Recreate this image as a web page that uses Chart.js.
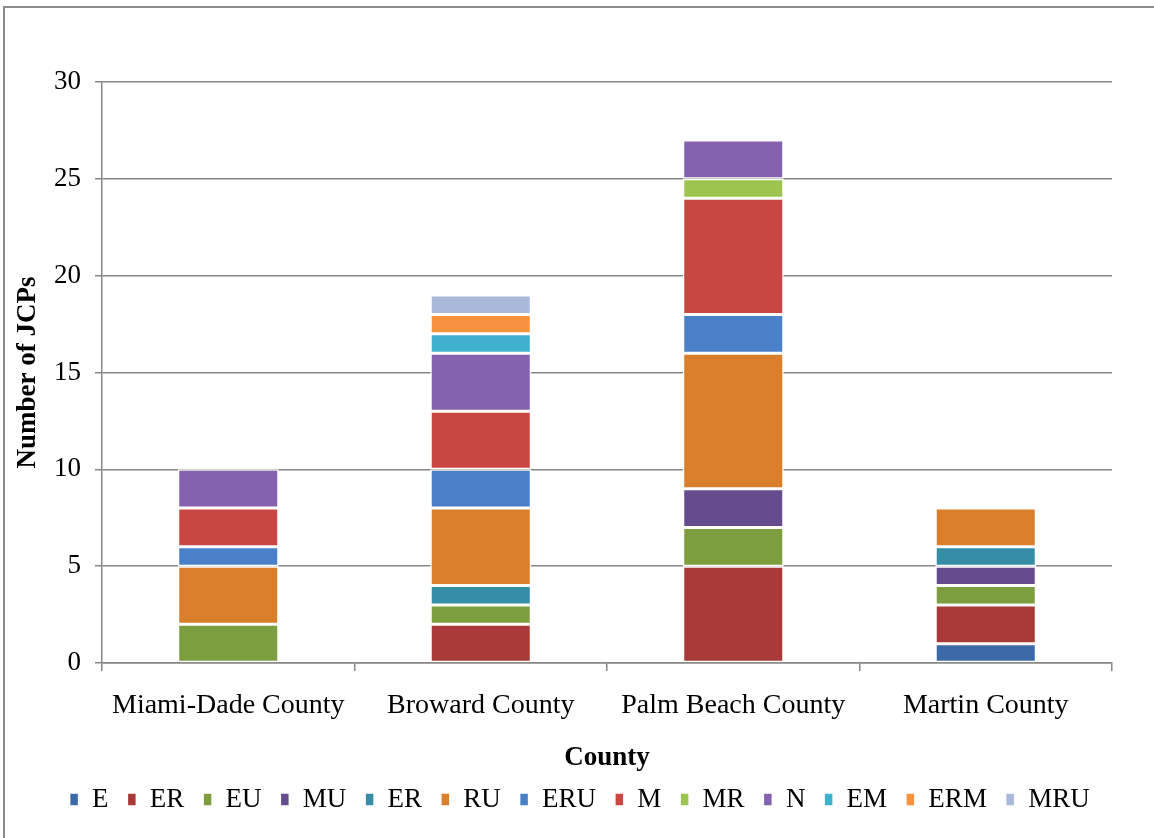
<!DOCTYPE html>
<html>
<head>
<meta charset="utf-8">
<script src="https://cdn.jsdelivr.net/npm/chart.js@4/dist/chart.umd.min.js"></script>
<style>
  html,body{margin:0;padding:0;background:#fff;}
  #wrap{position:relative;width:1154px;height:838px;}
</style>
</head>
<body>
<div id="wrap"><canvas id="c" width="1154" height="838"></canvas></div>
<script>
const categories = ["Miami-Dade County", "Broward County", "Palm Beach County", "Martin County"];
const seriesNames = ["E", "ER", "EU", "MU", "ER", "RU", "ERU", "M", "MR", "N", "EM", "ERM", "MRU"];
const E   = [0, 0, 0, 1];
const ER1 = [0, 2, 5, 2];
const EU  = [2, 1, 2, 1];
const MU  = [0, 0, 2, 1];
const ER2 = [0, 1, 0, 1];
const RU  = [3, 4, 7, 2];
const ERU = [1, 2, 2, 0];
const M   = [2, 3, 6, 0];
const MR  = [0, 0, 1, 0];
const N   = [2, 3, 2, 0];
const EM  = [0, 1, 0, 0];
const ERM = [0, 1, 0, 0];
const MRU = [0, 1, 0, 0];
const yTicks = [0, 5, 10, 15, 20, 25, 30];

const seriesValues = [E, ER1, EU, MU, ER2, RU, ERU, M, MR, N, EM, ERM, MRU];
const colors = ["#3c6aa8", "#a83a37", "#7d9e3e", "#654c8c", "#358da6", "#d97f2c",
                "#4a80c8", "#c94743", "#9cc44f", "#8562ad", "#3fb1cf", "#f7923f", "#a9b9dc"];

const FONT = "'Liberation Serif', 'Times New Roman', serif";

const frame = {
  id: 'frame',
  beforeDraw(chart) {
    const ctx = chart.ctx;
    ctx.save();
    ctx.strokeStyle = '#8c8c8c';
    ctx.lineWidth = 2;
    ctx.beginPath();
    ctx.moveTo(4, 838);
    ctx.lineTo(4, 7);
    ctx.lineTo(1154, 7);
    ctx.stroke();
    ctx.restore();
  }
};

new Chart(document.getElementById('c'), {
  type: 'bar',
  data: {
    labels: categories,
    datasets: seriesNames.map((n, i) => ({
      label: n,
      data: seriesValues[i],
      backgroundColor: colors[i],
      borderColor: '#ffffff',
      borderWidth: 1.5,
      borderSkipped: false,
      categoryPercentage: 1.0,
      barPercentage: 0.40
    }))
  },
  options: {
    responsive: false,
    animation: false,
    devicePixelRatio: 1,
    layout: { padding: { top: 82, right: 0, left: 12, bottom: 15 } },
    plugins: {
      tooltip: { enabled: false },
      legend: {
        position: 'bottom',
        labels: {
          font: { family: FONT, size: 27 },
          color: '#000',
          boxWidth: 9,
          boxHeight: 13,
          padding: 12,
          generateLabels(chart) {
            const items = Chart.defaults.plugins.legend.labels.generateLabels(chart);
            items.forEach(it => { it.text = it.text + '\u00a0'; });
            return items;
          }
        }
      }
    },
    scales: {
      x: {
        stacked: true,
        afterFit(scale) { scale.height = 111; },
        grid: { offset: true, drawOnChartArea: false, drawTicks: true, tickLength: 8, color: '#868686', lineWidth: 1.5 },
        border: { color: '#868686', width: 1.5 },
        ticks: { font: { family: FONT, size: 28 }, color: '#000', padding: 18, maxRotation: 0 },
        title: { display: true, text: 'County', font: { family: FONT, size: 27, weight: 'bold' }, color: '#000', padding: { top: 0, bottom: 0 } }
      },
      y: {
        stacked: true,
        min: 0, max: 30,
        afterBuildTicks(scale) { scale.ticks = yTicks.map(v => ({ value: v })); },
        afterFit(scale) { scale.width = 90; },
        grid: { color: '#868686', lineWidth: 1.5, tickLength: 7 },
        border: { color: '#868686', width: 1.5 },
        ticks: { font: { family: FONT, size: 27 }, color: '#000', padding: 14 },
        title: { display: true, text: 'Number of JCPs', font: { family: FONT, size: 27, weight: 'bold' }, color: '#000', padding: { top: 0, bottom: 2 } }
      },
      yRight: {
        type: 'linear',
        position: 'right',
        min: 0, max: 1,
        afterFit(scale) { scale.width = 42; },
        grid: { display: false },
        border: { display: false },
        ticks: { display: false }
      }
    }
  },
  plugins: [frame]
});
</script>
</body>
</html>
